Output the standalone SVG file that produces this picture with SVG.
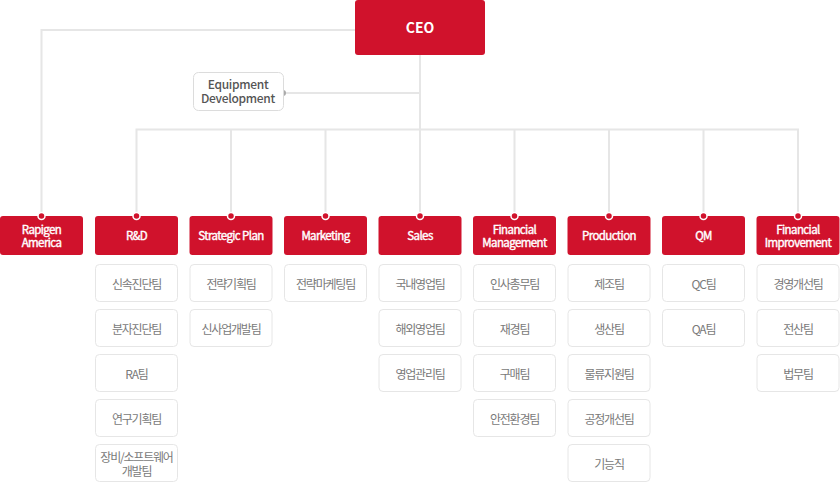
<svg xmlns="http://www.w3.org/2000/svg" width="840" height="482" viewBox="0 0 840 482">
<style>
.ln{fill:none;stroke:#e6e6e6;stroke-width:2}
.hd{fill:#d0122c}
.ht{font-family:"Noto Sans CJK KR","Noto Sans",sans-serif;font-size:11.5px;font-weight:400;fill:#fff;stroke:#fff;stroke-width:0.4px;text-anchor:middle;letter-spacing:-0.6px}
.sb{fill:#fff;stroke:#e6e6e6;stroke-width:1}
.st{font-family:"Noto Sans CJK KR","Noto Sans",sans-serif;font-size:12px;fill:#7a7a7a;text-anchor:middle;letter-spacing:-1.2px;dominant-baseline:central}
.dot{fill:#d0122c;stroke:#fff;stroke-width:1.5}
</style>
<g id="connectors">
<path class="ln" d="M41.5,216V30H355"/>
<path class="ln" d="M420,55V216"/>
<path class="ln" d="M283,93H420"/>
<path class="ln" d="M136.5,216V129.5H798V216"/>
<path class="ln" d="M231,129.5V216M325.5,129.5V216M514.5,129.5V216M609,129.5V216M703.5,129.5V216"/>
<circle cx="283" cy="93" r="3" fill="#aaa"/>
</g>
<g id="ceo">
<rect class="hd" x="355" y="0" width="130" height="55" rx="3"/>
<text x="420" y="33" font-family="'Noto Sans CJK KR','Noto Sans',sans-serif" font-size="14" font-weight="700" fill="#fff" text-anchor="middle">CEO</text>
</g>
<g id="equipment">
<rect x="193.5" y="72.5" width="90" height="38" rx="5" fill="#fff" stroke="#dcdcdc"/>
<text x="238" y="89" font-family="'Noto Sans CJK KR','Noto Sans',sans-serif" font-size="12" font-weight="500" fill="#555" text-anchor="middle" letter-spacing="-0.3">Equipment</text>
<text x="238" y="103" font-family="'Noto Sans CJK KR','Noto Sans',sans-serif" font-size="12" font-weight="500" fill="#555" text-anchor="middle" letter-spacing="-0.3">Development</text>
</g>
<g id="rapigen">
<rect class="hd" x="0" y="216" width="83" height="39" rx="3"/>
<text class="ht" x="41.5" y="233.5">Rapigen</text>
<text class="ht" x="41.5" y="247">America</text>
<circle class="dot" cx="41.5" cy="216" r="3.5"/>
</g>
<g id="rnd">
<rect class="hd" x="95" y="216" width="83" height="39" rx="3"/>
<text class="ht" x="136.5" y="240">R&amp;D</text>
<circle class="dot" cx="136.5" cy="216" r="3.5"/>
<rect class="sb" x="95.5" y="264.5" width="82" height="37" rx="4"/><text class="st" x="136.5" y="283">신속진단팀</text>
<rect class="sb" x="95.5" y="309.5" width="82" height="37" rx="4"/><text class="st" x="136.5" y="328">분자진단팀</text>
<rect class="sb" x="95.5" y="354.5" width="82" height="37" rx="4"/><text class="st" x="136.5" y="373">RA팀</text>
<rect class="sb" x="95.5" y="399.5" width="82" height="37" rx="4"/><text class="st" x="136.5" y="418">연구기획팀</text>
<rect class="sb" x="95.5" y="444.5" width="82" height="37" rx="4"/><text class="st" x="136.5" y="456.5">장비/소프트웨어</text><text class="st" x="136.5" y="470">개발팀</text>
</g>
<g id="strategic">
<rect class="hd" x="189.5" y="216" width="83" height="39" rx="3"/>
<text class="ht" x="231" y="240">Strategic Plan</text>
<circle class="dot" cx="231" cy="216" r="3.5"/>
<rect class="sb" x="190" y="264.5" width="82" height="37" rx="4"/><text class="st" x="231" y="283">전략기획팀</text>
<rect class="sb" x="190" y="309.5" width="82" height="37" rx="4"/><text class="st" x="231" y="328">신사업개발팀</text>
</g>
<g id="marketing">
<rect class="hd" x="284" y="216" width="83" height="39" rx="3"/>
<text class="ht" x="325.5" y="240">Marketing</text>
<circle class="dot" cx="325.5" cy="216" r="3.5"/>
<rect class="sb" x="284.5" y="264.5" width="82" height="37" rx="4"/><text class="st" x="325.5" y="283">전략마케팅팀</text>
</g>
<g id="sales">
<rect class="hd" x="378.5" y="216" width="83" height="39" rx="3"/>
<text class="ht" x="420" y="240">Sales</text>
<circle class="dot" cx="420" cy="216" r="3.5"/>
<rect class="sb" x="379" y="264.5" width="82" height="37" rx="4"/><text class="st" x="420" y="283">국내영업팀</text>
<rect class="sb" x="379" y="309.5" width="82" height="37" rx="4"/><text class="st" x="420" y="328">해외영업팀</text>
<rect class="sb" x="379" y="354.5" width="82" height="37" rx="4"/><text class="st" x="420" y="373">영업관리팀</text>
</g>
<g id="financial-management">
<rect class="hd" x="473" y="216" width="83" height="39" rx="3"/>
<text class="ht" x="514.5" y="233.5">Financial</text>
<text class="ht" x="514.5" y="247">Management</text>
<circle class="dot" cx="514.5" cy="216" r="3.5"/>
<rect class="sb" x="473.5" y="264.5" width="82" height="37" rx="4"/><text class="st" x="514.5" y="283">인사총무팀</text>
<rect class="sb" x="473.5" y="309.5" width="82" height="37" rx="4"/><text class="st" x="514.5" y="328">재경팀</text>
<rect class="sb" x="473.5" y="354.5" width="82" height="37" rx="4"/><text class="st" x="514.5" y="373">구매팀</text>
<rect class="sb" x="473.5" y="399.5" width="82" height="37" rx="4"/><text class="st" x="514.5" y="418">안전환경팀</text>
</g>
<g id="production">
<rect class="hd" x="567.5" y="216" width="83" height="39" rx="3"/>
<text class="ht" x="609" y="240">Production</text>
<circle class="dot" cx="609" cy="216" r="3.5"/>
<rect class="sb" x="568" y="264.5" width="82" height="37" rx="4"/><text class="st" x="609" y="283">제조팀</text>
<rect class="sb" x="568" y="309.5" width="82" height="37" rx="4"/><text class="st" x="609" y="328">생산팀</text>
<rect class="sb" x="568" y="354.5" width="82" height="37" rx="4"/><text class="st" x="609" y="373">물류지원팀</text>
<rect class="sb" x="568" y="399.5" width="82" height="37" rx="4"/><text class="st" x="609" y="418">공정개선팀</text>
<rect class="sb" x="568" y="444.5" width="82" height="37" rx="4"/><text class="st" x="609" y="463">기능직</text>
</g>
<g id="qm">
<rect class="hd" x="662" y="216" width="83" height="39" rx="3"/>
<text class="ht" x="703.5" y="240">QM</text>
<circle class="dot" cx="703.5" cy="216" r="3.5"/>
<rect class="sb" x="662.5" y="264.5" width="82" height="37" rx="4"/><text class="st" x="703.5" y="283">QC팀</text>
<rect class="sb" x="662.5" y="309.5" width="82" height="37" rx="4"/><text class="st" x="703.5" y="328">QA팀</text>
</g>
<g id="financial-improvement">
<rect class="hd" x="756.5" y="216" width="83" height="39" rx="3"/>
<text class="ht" x="798" y="233.5">Financial</text>
<text class="ht" x="798" y="247">Improvement</text>
<circle class="dot" cx="798" cy="216" r="3.5"/>
<rect class="sb" x="757" y="264.5" width="82" height="37" rx="4"/><text class="st" x="798" y="283">경영개선팀</text>
<rect class="sb" x="757" y="309.5" width="82" height="37" rx="4"/><text class="st" x="798" y="328">전산팀</text>
<rect class="sb" x="757" y="354.5" width="82" height="37" rx="4"/><text class="st" x="798" y="373">법무팀</text>
</g>
</svg>
